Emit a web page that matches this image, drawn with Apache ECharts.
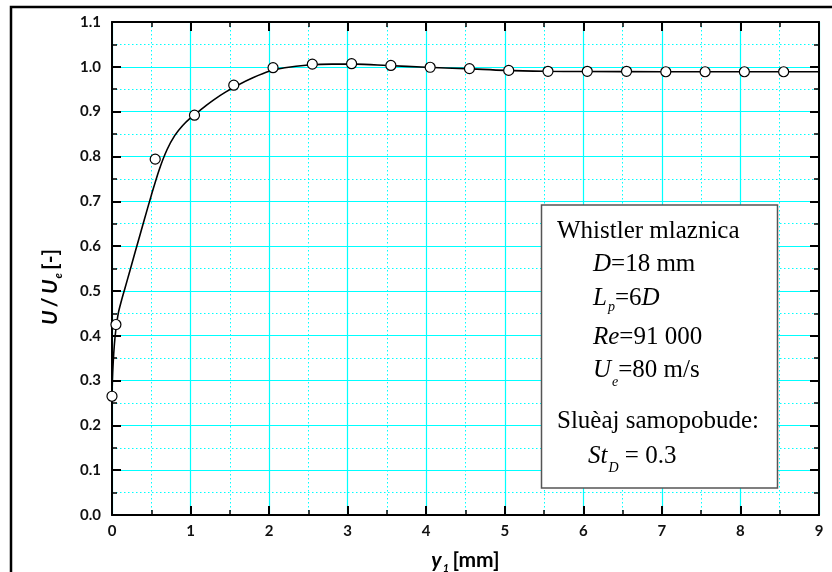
<!DOCTYPE html>
<html><head><meta charset="utf-8">
<script src="https://cdn.jsdelivr.net/npm/echarts@6/dist/echarts.min.js"></script>
<style>html,body{margin:0;padding:0;background:#fff}#c{width:832px;height:572px}</style>
</head><body><div id="c"></div>
<script>
// measured points (circles)
const pointX = [0, 0.05, 0.55, 1.05, 1.55, 2.05, 2.55, 3.05, 3.55, 4.05, 4.55, 5.05, 5.55, 6.05, 6.55, 7.05, 7.55, 8.05, 8.55];
const pointY = [0.265, 0.425, 0.794, 0.892, 0.959, 0.998, 1.006, 1.007, 1.003, 0.999, 0.996, 0.992, 0.990, 0.990, 0.990, 0.989, 0.989, 0.989, 0.989];
// fitted curve
const curveX = [0, 0.005, 0.015, 0.03, 0.05, 0.08, 0.12, 0.165, 0.22, 0.3, 0.4, 0.5, 0.6, 0.7, 0.8, 0.9, 1.0, 1.1, 1.2, 1.3, 1.45, 1.6, 1.8, 2.0, 2.2, 2.5, 2.8, 3.1, 3.5, 4.0, 4.5, 5.0, 5.5, 6.0, 7.0, 8.0, 9.0];
const curveY = [0.26, 0.30, 0.34, 0.38, 0.415, 0.45, 0.478, 0.506, 0.54, 0.59, 0.652, 0.713, 0.77, 0.815, 0.847, 0.869, 0.886, 0.90, 0.914, 0.927, 0.944, 0.959, 0.976, 0.99, 0.998, 1.004, 1.006, 1.006, 1.003, 0.999, 0.996, 0.992, 0.990, 0.9895, 0.989, 0.989, 0.989];
const xTickLabels = ['0','1','2','3','4','5','6','7','8','9'];
const yTickLabels = ['0.0','0.1','0.2','0.3','0.4','0.5','0.6','0.7','0.8','0.9','1.0','1.1'];
const noteLines = [
  'Whistler mlaznica',
  '{i|D}=18 mm',
  '{i|L}{subp|p}=6{i|D}',
  '{i|Re}=91 000',
  '{i|U}{sub|e}=80 m/s',
  'Sluèaj samopobude:',
  '{i|St}{sub|D} = 0.3'
];

const chart = echarts.init(document.getElementById('c'), null, {renderer: 'canvas'});
const CY = '#00FFFF';
const labelFont = {fontFamily: 'Lato', fontWeight: 'bold', fontSize: 15, color: '#111'};

function xAxisCfg(pos, showLabel) {
  return {
    type: 'value', position: pos, min: 0, max: 9, interval: 1,
    axisLine: {show: true, onZero: false, lineStyle: {color: '#000', width: 2}},
    axisTick: {show: true, inside: true, length: 9, lineStyle: {color: '#000', width: 2}},
    minorTick: {show: true, splitNumber: 2, length: 5, lineStyle: {color: '#000', width: 1.5}},
    splitLine: {show: showLabel, lineStyle: {color: CY, width: 1.2}},
    minorSplitLine: {show: showLabel, lineStyle: {color: CY, width: 1, type: [1.5, 2.5]}},
    axisLabel: Object.assign({show: showLabel, margin: 9, formatter: v => xTickLabels[Math.round(v)]}, labelFont)
  };
}
function yAxisCfg(pos, showLabel) {
  return {
    type: 'value', position: pos, min: 0, max: 1.1, interval: 0.1,
    axisLine: {show: true, onZero: false, lineStyle: {color: '#000', width: 2}},
    axisTick: {show: true, inside: true, length: 9, lineStyle: {color: '#000', width: 2}},
    minorTick: {show: true, splitNumber: 2, length: 5, lineStyle: {color: '#000', width: 1.5}},
    splitLine: {show: showLabel, lineStyle: {color: CY, width: 1.2}},
    minorSplitLine: {show: showLabel, lineStyle: {color: CY, width: 1, type: [1.5, 2.5]}},
    axisLabel: Object.assign({show: showLabel, margin: 11, formatter: v => yTickLabels[Math.round(v * 10)]}, labelFont)
  };
}

const serif = 'Liberation Serif';
const noteRich = {
  i: {fontFamily: serif, fontStyle: 'italic', fontSize: 25, color: '#000'},
  sub: {fontFamily: serif, fontStyle: 'italic', fontSize: 14, lineHeight: 14, padding: [24, 0, 0, 1], color: '#000'},
  subp: {fontFamily: serif, fontStyle: 'italic', fontSize: 14, lineHeight: 14, padding: [18, 0, 0, 1], color: '#000'}
};
const noteX = [557, 593, 593, 593, 593, 557, 588];
const noteY = [231, 264, 298, 337, 370, 421, 456];

const nameRich = {
  bi: {fontFamily: 'Lato', fontWeight: 'bold', fontStyle: 'italic', fontSize: 21, fill: '#000', color: '#000'},
  b: {fontFamily: 'Lato', fontWeight: 'bold', fontSize: 21, fill: '#000', color: '#000'},
  sub: {fontFamily: 'Lato', fontWeight: 'bold', fontStyle: 'italic', fontSize: 11, lineHeight: 11, padding: [16, 0, 0, 1], fill: '#000', color: '#000'}
};

const graphics = [
  {type: 'rect', z: 100, shape: {x: 11, y: 7, width: 900, height: 700}, style: {fill: 'none', stroke: '#000', lineWidth: 2.5}},
  {type: 'rect', z: 100, shape: {x: 541.5, y: 205, width: 236, height: 283}, style: {fill: '#fff', stroke: '#555', lineWidth: 1.5}},
  {type: 'text', z: 101, x: 50, y: 287, rotation: Math.PI / 2, style: {
    text: '{bi|U} {b|/} {bi|U}{sub|e} {b|[-]}', align: 'center', verticalAlign: 'middle', rich: nameRich
  }}
];
noteLines.forEach((t, k) => {
  graphics.push({type: 'text', z: 101, x: noteX[k], y: noteY[k], style: {
    text: t, align: 'left', verticalAlign: 'middle', fontFamily: serif, fontSize: 25, fill: '#000', rich: noteRich
  }});
});

const xMain = xAxisCfg('bottom', true);
xMain.name = '{bi|y}{sub|1} {b|[mm]}';
xMain.nameLocation = 'middle';
xMain.nameGap = 35;
xMain.nameTextStyle = {rich: nameRich};

chart.setOption({
  animation: false,
  backgroundColor: '#fff',
  grid: {left: 112, top: 22, right: 13, bottom: 57, containLabel: false, outerBoundsMode: 'none'},
  xAxis: [xMain, xAxisCfg('top', false)],
  yAxis: [yAxisCfg('left', true), yAxisCfg('right', false)],
  series: [
    {type: 'line', data: curveX.map((x, i) => [x, curveY[i]]), showSymbol: false, smooth: 0.3,
     lineStyle: {color: '#000', width: 1.6}, z: 3},
    {type: 'scatter', data: pointX.map((x, i) => [x, pointY[i]]), symbol: 'circle', symbolSize: 10,
     itemStyle: {color: '#fff', borderColor: '#000', borderWidth: 1.2, opacity: 1}, z: 4}
  ],
  graphic: graphics
});
</script></body></html>
